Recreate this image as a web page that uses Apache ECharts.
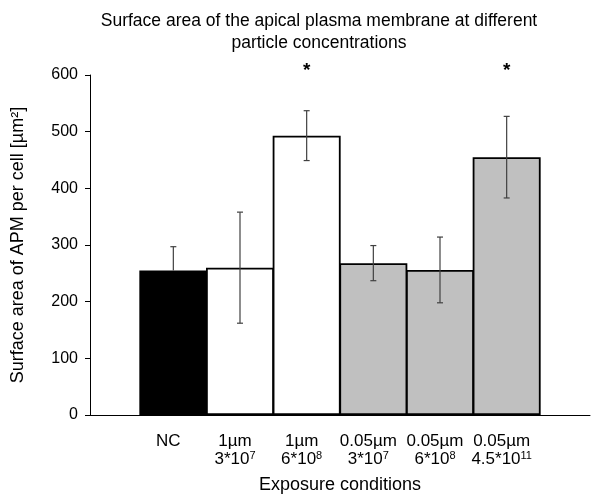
<!DOCTYPE html>
<html>
<head>
<meta charset="utf-8">
<script src="https://cdn.jsdelivr.net/npm/echarts@6/dist/echarts.min.js"></script>
<style>html,body{margin:0;padding:0;background:#fff}#c{width:600px;height:500px}</style>
</head>
<body>
<div id="c"></div>
<script>
var categories = ['NC', '1µm 3*10^7', '1µm 6*10^8', '0.05µm 3*10^7', '0.05µm 6*10^8', '0.05µm 4.5*10^11'];
var sizeLabels = ['NC', '1µm', '1µm', '0.05µm', '0.05µm', '0.05µm'];
var concBase = ['', '3*10', '6*10', '3*10', '6*10', '4.5*10'];
var concExp = ['', '7', '8', '7', '8', '11'];
var means = [255, 260, 493, 268, 256, 455];
var errUpper = [42, 98, 44, 31, 58, 72];
var errLower = [0, 98, 44, 31, 58, 72];
var significant = [false, false, true, false, false, true];
var barColors = ['#000000', '#ffffff', '#ffffff', '#c0c0c0', '#c0c0c0', '#c0c0c0'];
var yTicks = [0, 100, 200, 300, 400, 500, 600];

var FONT = 'Liberation Sans, Arial, sans-serif';
var chart = echarts.init(document.getElementById('c'), null, {renderer: 'canvas'});

var barData = means.map(function (v, i) {
  return {value: v, itemStyle: {color: barColors[i]}};
});
var errData = means.map(function (v, i) {
  return [i, v - errLower[i], v + errUpper[i], significant[i] ? 1 : 0, errLower[i] > 0 ? 1 : 0];
});

chart.setOption({
  animation: false,
  title: {
    text: 'Surface area of the apical plasma membrane at different\nparticle concentrations',
    left: 319,
    textAlign: 'center',
    top: 10,
    padding: 0,
    textStyle: {fontFamily: FONT, fontSize: 17.5, fontWeight: 'normal', color: '#000', lineHeight: 22}
  },
  grid: [
    {left: 90, right: 10, top: 75, bottom: 85},
    {left: 140, right: 60, top: 75, bottom: 85}
  ],
  xAxis: [
    {gridIndex: 0, type: 'value', min: 0, max: 1, show: true,
     axisLine: {show: true, onZero: false, lineStyle: {color: '#000', width: 1}},
     axisTick: {show: false}, axisLabel: {show: false}, splitLine: {show: false}},
    {gridIndex: 1, type: 'category', data: categories,
     axisLine: {show: false}, axisTick: {show: false},
     axisLabel: {
       fontFamily: FONT, fontSize: 17, color: '#000', margin: 17, lineHeight: 18, interval: 0,
       padding: [0, 10, 0, 0],
       formatter: function (value, idx) {
         var second = concBase[idx] ? '{b|' + concBase[idx] + '}{s|' + concExp[idx] + '}' : '{b| }';
         return '{b|' + sizeLabels[idx] + '}\n' + second;
       },
       rich: {
         b: {fontFamily: FONT, fontSize: 17, color: '#000', lineHeight: 18},
         s: {fontFamily: FONT, fontSize: 11, color: '#000', lineHeight: 11, verticalAlign: 'top'}
       }
     },
     name: 'Exposure conditions', nameLocation: 'middle', nameGap: 61,
     nameTextStyle: {fontFamily: FONT, fontSize: 18, color: '#000'}}
  ],
  yAxis: [
    {gridIndex: 0, type: 'value', min: yTicks[0], max: yTicks[yTicks.length - 1], interval: 100,
     axisLine: {show: true, lineStyle: {color: '#000', width: 1}},
     axisTick: {show: true, inside: false, length: 5, lineStyle: {color: '#000'}},
     axisLabel: {fontFamily: FONT, fontSize: 16, color: '#000', margin: 12},
     splitLine: {show: false},
     name: 'Surface area of APM per cell [µm²]', nameLocation: 'middle', nameGap: 63,
     nameTextStyle: {fontFamily: FONT, fontSize: 18, color: '#000'}},
    {gridIndex: 1, type: 'value', min: yTicks[0], max: yTicks[yTicks.length - 1], show: false}
  ],
  series: [
    {type: 'bar', xAxisIndex: 1, yAxisIndex: 1, data: barData,
     barWidth: 68,
     itemStyle: {borderColor: '#000', borderWidth: 1.8}},
    {type: 'custom', xAxisIndex: 1, yAxisIndex: 1, data: errData, z: 10, clip: false,
     renderItem: function (params, api) {
       var x = api.coord([api.value(0), 0])[0];
       var lo = api.coord([api.value(0), api.value(1)])[1];
       var hi = api.coord([api.value(0), api.value(2)])[1];
       var cap = 3;
       var st = {stroke: '#404040', lineWidth: 1.2};
       var children = [
         {type: 'line', shape: {x1: x, y1: lo, x2: x, y2: hi}, style: st},
         {type: 'line', shape: {x1: x - cap, y1: hi, x2: x + cap, y2: hi}, style: st}
       ];
       if (api.value(4)) {
         children.push({type: 'line', shape: {x1: x - cap, y1: lo, x2: x + cap, y2: lo}, style: st});
       }
       if (api.value(3)) {
         children.push({type: 'text', style: {text: '*', x: x, y: params.coordSys.y - 4,
           textAlign: 'center', textVerticalAlign: 'middle',
           font: 'bold 19px ' + FONT, fill: '#000'}});
       }
       return {type: 'group', children: children};
     }}
  ]
});
</script>
</body>
</html>
